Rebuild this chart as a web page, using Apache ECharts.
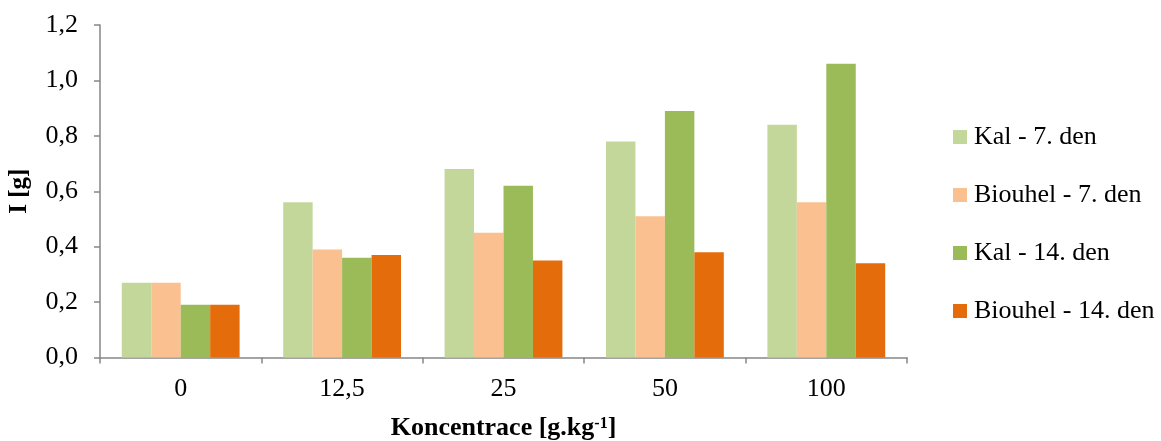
<!DOCTYPE html>
<html>
<head>
<meta charset="utf-8">
<script src="https://cdn.jsdelivr.net/npm/echarts@6/dist/echarts.min.js"></script>
<style>
html,body{margin:0;padding:0;background:#fff;}
#c{width:1161px;height:441px;}
</style>
</head>
<body>
<div id="c"></div>
<script>
const categories = ['0', '12,5', '25', '50', '100'];
const seriesNames = ['Kal - 7. den', 'Biouhel - 7. den', 'Kal - 14. den', 'Biouhel - 14. den'];
const kal7 = [0.27, 0.56, 0.68, 0.78, 0.84];
const biouhel7 = [0.27, 0.39, 0.45, 0.51, 0.56];
const kal14 = [0.19, 0.36, 0.62, 0.89, 1.06];
const biouhel14 = [0.19, 0.37, 0.35, 0.38, 0.34];
const colors = ['#C4D79B', '#FAC090', '#9BBB59', '#E46C0A'];

const font = '"Liberation Serif", "Times New Roman", serif';
const chart = echarts.init(document.getElementById('c'), null, {renderer: 'canvas'});
const values = [kal7, biouhel7, kal14, biouhel14];
chart.setOption({
  animation: false,
  backgroundColor: '#ffffff',
  grid: {left: 100, right: 254, top: 25, bottom: 83.5, containLabel: false, outerBoundsMode: 'none'},
  legend: {
    orient: 'vertical',
    left: 948,
    top: 119,
    itemWidth: 14,
    itemHeight: 14,
    itemGap: 32,
    icon: 'rect',
    textStyle: {fontFamily: font, fontSize: 26, color: '#000', lineHeight: 26, padding: [0, 0, 0, 2]},
    data: seriesNames
  },
  xAxis: {
    type: 'category',
    data: categories,
    axisLine: {lineStyle: {color: '#868686', width: 1.5}},
    axisTick: {show: true, length: 6, lineStyle: {color: '#868686', width: 1.5}},
    axisLabel: {fontFamily: font, fontSize: 26, color: '#000', margin: 19},
    name: '{a|Koncentrace [g.kg}{s|-1}{a|]}',
    nameLocation: 'middle',
    nameGap: 58,
    nameTextStyle: {
      rich: {
        a: {fontFamily: font, fontSize: 26, fontWeight: 'bold', color: '#000', verticalAlign: 'bottom', lineHeight: 26},
        s: {fontFamily: font, fontSize: 16, fontWeight: 'bold', color: '#000', verticalAlign: 'top', lineHeight: 26, padding: [0, 0, 10, 0]}
      }
    }
  },
  yAxis: {
    type: 'value',
    min: 0,
    max: 1.2,
    interval: 0.2,
    splitLine: {show: false},
    axisLine: {show: true, lineStyle: {color: '#868686', width: 1.5}},
    axisTick: {show: true, length: 6, lineStyle: {color: '#868686', width: 1.5}},
    axisLabel: {
      fontFamily: font, fontSize: 26, color: '#000', margin: 22,
      formatter: v => v.toFixed(1).replace('.', ',')
    },
    name: 'I [g]',
    nameLocation: 'middle',
    nameGap: 68,
    nameTextStyle: {fontFamily: font, fontSize: 25, fontWeight: 'bold', color: '#000'}
  },
  series: seriesNames.map((n, i) => ({
    name: n,
    type: 'bar',
    data: values[i],
    barGap: '0%',
    barCategoryGap: '27%',
    itemStyle: {color: colors[i]}
  }))
});
</script>
</body>
</html>
